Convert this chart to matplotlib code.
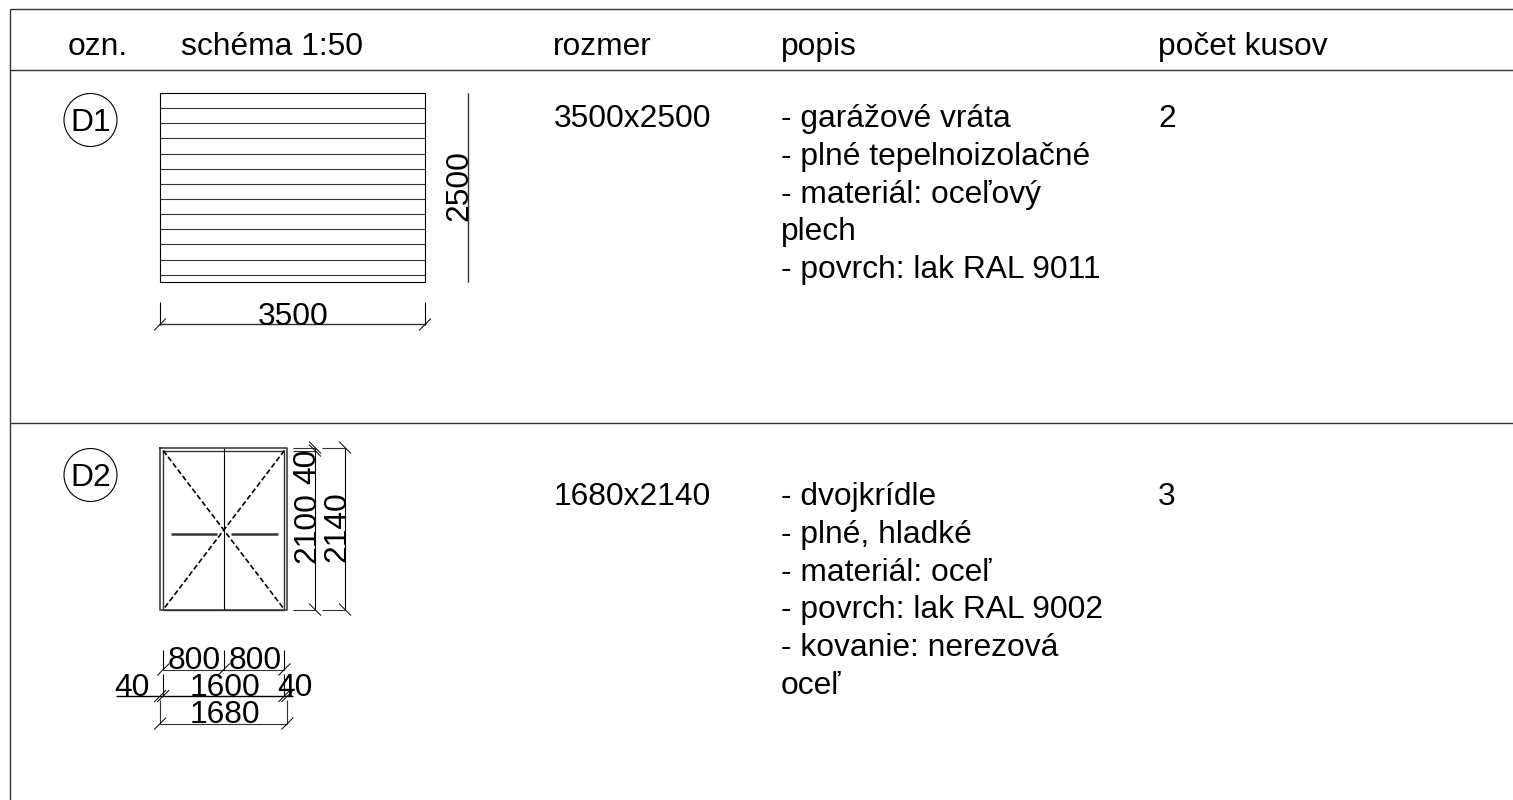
import matplotlib.pyplot as plt
from matplotlib.patches import Circle

plt.rcParams['font.family'] = ['Liberation Sans', 'DejaVu Sans']

# table text
headers = ['ozn.', 'schéma 1:50', 'rozmer', 'popis', 'počet kusov']
header_x = [68, 181, 553, 781, 1158]
d1_popis = ['- garážové vráta', '- plné tepelnoizolačné', '- materiál: oceľový', 'plech', '- povrch: lak RAL 9011']
d2_popis = ['- dvojkrídle', '- plné, hladké', '- materiál: oceľ', '- povrch: lak RAL 9002', '- kovanie: nerezová', 'oceľ']

# door sizes in mm
d1_w = 3500
d1_h = 2500
d1_slats = [200, 400, 600, 800, 1000, 1200, 1400, 1600, 1800, 2000, 2200, 2400]
d2_w = 1680
d2_h = 2140
d2_frame = 40
d2_leaf = 800

S = 265 / 3500  # px per mm, 1:50
FS = 22.9
LW = 0.8
GREY = '#333333'

fig = plt.figure(figsize=(15.13, 8), dpi=100)
ax = fig.add_axes([0, 0, 1, 1])
ax.set_xlim(0, 1513)
ax.set_ylim(800, 0)
ax.axis('off')


def line(x0, y0, x1, y1, lw=LW, color='black', **kw):
    ax.plot([x0, x1], [y0, y1], color=color, lw=lw, solid_capstyle='butt', **kw)


def txt(x, y, s, ha='left', rotation=0):
    ax.text(x, y, s, fontsize=FS, ha=ha, va='baseline', rotation=rotation,
            rotation_mode='anchor', color='black')


def tick(x, y, vertical=False):
    # architect style slash on a dimension line
    if vertical:
        line(x - 6, y - 6, x + 6, y + 6, lw=0.7)
    else:
        line(x - 6, y + 6, x + 6, y - 6, lw=0.7)


# table lines
line(9.5, 9, 1513, 9, lw=1.0, color=GREY)
line(9.5, 70, 1513, 70, lw=1.0, color=GREY)
line(9.5, 423, 1513, 423, lw=1.0, color=GREY)
line(9.5, 9, 9.5, 800, lw=1.0, color=GREY)

for x, h in zip(header_x, headers):
    txt(x, 55, h)

# markers
for cy, name in [(120, 'D1'), (475, 'D2')]:
    ax.add_patch(Circle((90.5, cy), 26.5, fill=False, ec='black', lw=LW))
    txt(90.5, cy + 11, name, ha='center')

# D1 drawing
x0, y0 = 160, 93
x1, y1 = x0 + d1_w * S, y0 + d1_h * S
ax.plot([x0, x1, x1, x0, x0], [y0, y0, y1, y1, y0], color='black', lw=LW)
for s in d1_slats:
    line(x0, y0 + s * S, x1, y0 + s * S, color=GREY)

# D1 dimensions
line(468.3, y0, 468.3, y1, lw=1.0, color=GREY)
txt(467, (y0 + y1) / 2 - 2.5, str(d1_h), ha='center', rotation=90)
line(x0 - 1, 324, x1 + 1, 324, lw=1.0, color=GREY)
line(x0, 302, x0, 325)
line(x1, 302, x1, 325)
tick(x0, 324.5)
tick(x1, 324.5)
txt((x0 + x1) / 2 + 1, 324.6, str(d1_w), ha='center')

# D1 text
txt(554, 127, f'{d1_w}x{d1_h}')
for i, s in enumerate(d1_popis):
    txt(781, 127 + i * 37.8, s)
txt(1158, 127, '2')

# D2 drawing
x0, y0 = 160.2, 447.5
x1, y1 = x0 + d2_w * S, y0 + d2_h * S
f = d2_frame * S
xc = (x0 + x1) / 2
ax.plot([x0, x1, x1, x0, x0], [y0, y0, y1, y1, y0], color=GREY, lw=1.1)
ax.plot([x0 + f, x1 - f, x1 - f, x0 + f, x0 + f], [y0 + f, y0 + f, y1, y1, y0 + f], color=GREY, lw=1.0)
line(xc, y0, xc, y1)
ax.plot([x0 + f, x1 - f], [y0 + f, y1], color='black', lw=1.2, ls=(0, (3.2, 1.6)))
ax.plot([x1 - f, x0 + f], [y0 + f, y1], color='black', lw=1.2, ls=(0, (3.2, 1.6)))
ym = (y0 + y1) / 2 + 5.5
line(170.7, ym, 217, ym, lw=1.8, color=GREY)
line(231, ym, 278, ym, lw=1.8, color=GREY)

# D2 dimensions, right side
xa, xb = 315, 345
line(xa, y0, xa, y1)
line(xb, y0, xb, y1)
for y in [y0, y0 + f, y1]:
    line(292.7, y, xa, y, color=GREY)
    tick(xa, y, vertical=True)
line(321.7, y0, xb, y0, color=GREY)
line(321.7, y1, xb, y1, color=GREY)
tick(xb, y0, vertical=True)
tick(xb, y1, vertical=True)
txt(xa, y0 + 18.5, str(d2_frame), ha='center', rotation=90)
txt(xa, (y0 + f + y1) / 2 - 2, str(d2_h - d2_frame), ha='center', rotation=90)
txt(xb, (y0 + y1) / 2 - 1.5, str(d2_h), ha='center', rotation=90)

# D2 dimensions, bottom
ya, yb, yc = 669.5, 696, 723.5
line(x0 + f, ya, x1 - f, ya, color=GREY)
for x in [x0 + f, xc, x1 - f]:
    line(x, 650, x, ya)
    tick(x, ya)
txt((x0 + f + xc) / 2 + 1, ya - 0.5, str(d2_leaf), ha='center')
txt((xc + x1 - f) / 2 + 1, ya - 0.5, str(d2_leaf), ha='center')

line(115.7, yb, 293, yb, lw=1.0)
for x in [x0, x0 + f, x1 - f, x1]:
    tick(x, yb)
line(x0 + f, 674, x0 + f, yb)
line(x1 - f, 674, x1 - f, yb)
txt(xc + 1, yb - 0.5, str(d2_w - 2 * d2_frame), ha='center')
txt(132, yb - 0.5, str(d2_frame), ha='center')
txt(295, yb - 0.5, str(d2_frame), ha='center')

line(x0, yc, x1, yc, color=GREY)
line(x0, 700, x0, yc, color=GREY)
line(x1, 700, x1, yc, color=GREY)
tick(x0, yc)
tick(x1, yc)
txt(xc + 1, yc - 0.5, str(d2_w), ha='center')

# D2 text
txt(554, 505, f'{d2_w}x{d2_h}')
for i, s in enumerate(d2_popis):
    txt(781, 505 + i * 37.8, s)
txt(1158, 505, '3')

fig.savefig('out.png', dpi=100, facecolor='white')
